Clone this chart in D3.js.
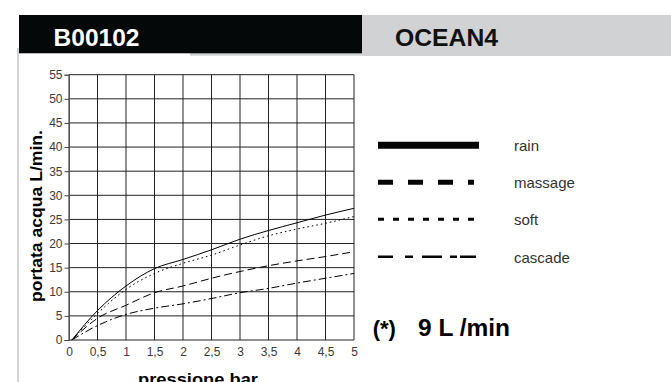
<!DOCTYPE html>
<html>
<head>
<meta charset="utf-8">
<script src="https://cdn.jsdelivr.net/npm/d3@7"></script>
<style>
  html, body { margin: 0; padding: 0; background: #fff; }
  svg { display: block; font-family: "Liberation Sans", Arial, Helvetica, sans-serif; }
</style>
</head>
<body>
<svg id="chart" width="671" height="382"></svg>
<script>
// ---- data ----
const xTicks = [0, 0.5, 1, 1.5, 2, 2.5, 3, 3.5, 4, 4.5, 5];
const yTicks = [0, 5, 10, 15, 20, 25, 30, 35, 40, 45, 50, 55];
const pressure = [0.05, 0.5, 1, 1.5, 2, 2.5, 3, 3.5, 4, 4.5, 5];
const rain    = [0, 6.1, 11.2, 14.8, 16.7, 18.7, 20.9, 22.7, 24.3, 25.9, 27.3];
const massage = [0, 4.5, 7.2, 9.8, 11.2, 12.8, 14.2, 15.4, 16.4, 17.3, 18.3];
const soft    = [0, 5.5, 10.5, 13.8, 15.9, 17.6, 19.7, 21.6, 23.0, 24.2, 25.6];
const cascade = [0, 3.0, 5.3, 6.6, 7.5, 8.6, 9.8, 10.7, 11.8, 12.8, 13.8];
const seriesNames = ["rain", "massage", "soft", "cascade"];
const codeLabel = "B00102";
const modelLabel = "OCEAN4";
const yTitle = "portata acqua  L/min.";
const xTitle = "pressione bar";
const noteStar = "(*)";
const noteValue = "9 L /min";

const fmt = v => String(v).replace(".", ",");

const svg = d3.select("#chart");

// ---- header ----
svg.append("rect").attr("x", 362).attr("y", 15).attr("width", 309).attr("height", 41).attr("fill", "#d1d2d4");
svg.append("rect").attr("x", 190).attr("y", 50).attr("width", 172).attr("height", 5.7).attr("fill", "#d1d2d4");
svg.append("rect").attr("x", 19).attr("y", 15).attr("width", 343).attr("height", 38.3).attr("fill", "#050808");
svg.append("rect").attr("x", 17).attr("y", 48).attr("width", 2).attr("height", 334).attr("fill", "#d6d6d6");
svg.append("text").attr("x", 53.5).attr("y", 45.7).attr("fill", "#fff")
  .attr("font-size", 23).attr("font-weight", "bold")
  .attr("textLength", 86).attr("lengthAdjust", "spacingAndGlyphs").text(codeLabel);
svg.append("text").attr("x", 395).attr("y", 45.7).attr("fill", "#111")
  .attr("font-size", 23).attr("font-weight", "bold")
  .attr("textLength", 103).attr("lengthAdjust", "spacingAndGlyphs").text(modelLabel);

// ---- scales ----
const x = d3.scaleLinear().domain([0, 5]).range([69, 354]);
const y = d3.scaleLinear().domain([0, 55]).range([340, 74.7]);

const g = svg.append("g");

// grid
g.selectAll("line.v").data(xTicks).enter().append("line")
  .attr("x1", d => x(d)).attr("x2", d => x(d))
  .attr("y1", y(0)).attr("y2", y(55))
  .attr("stroke", "#222").attr("stroke-width", 1);
g.selectAll("line.h").data(yTicks).enter().append("line")
  .attr("x1", x(0)).attr("x2", x(5))
  .attr("y1", d => y(d)).attr("y2", d => y(d))
  .attr("stroke", "#222").attr("stroke-width", 1);

// y axis
const yAxis = d3.axisLeft(y).tickValues(yTicks).tickSize(4.5).tickPadding(2).tickFormat(fmt);
const ya = g.append("g").attr("transform", `translate(${x(0)},0)`).call(yAxis);
ya.select(".domain").attr("stroke", "#555");
ya.selectAll(".tick line").attr("stroke", "#444");
ya.selectAll("text").attr("font-size", 12).attr("fill", "#3a3a3a")
  .attr("font-family", "Liberation Sans, Arial, sans-serif");

// x axis
const xAxis = d3.axisBottom(x).tickValues(xTicks).tickSize(0).tickPadding(7).tickFormat(fmt);
const xa = g.append("g").attr("transform", `translate(0,${y(0)})`).call(xAxis);
xa.select(".domain").remove();
xa.selectAll("text").attr("font-size", 12).attr("fill", "#3a3a3a")
  .attr("font-family", "Liberation Sans, Arial, sans-serif");

// axis titles
svg.append("text").attr("transform", "translate(41.5,216) rotate(-90)")
  .attr("text-anchor", "middle").attr("font-size", 16).attr("font-weight", "bold").attr("fill", "#000")
  .attr("textLength", 172).attr("lengthAdjust", "spacingAndGlyphs").text(yTitle);
svg.append("text").attr("x", 198).attr("y", 384.5)
  .attr("text-anchor", "middle").attr("font-size", 17).attr("font-weight", "bold").attr("fill", "#000")
  .attr("textLength", 120).attr("lengthAdjust", "spacingAndGlyphs").text(xTitle);

// ---- curves ----
const styles = {
  rain:    { dash: null,         w: 1.0 },
  massage: { dash: "8,4",        w: 1.0 },
  soft:    { dash: "1.6,3",      w: 1.0 },
  cascade: { dash: "8,3,2,3",    w: 1.0 }
};
const seriesData = { rain, massage, soft, cascade };
const line = d3.line().x(d => x(d[0])).y(d => y(d[1])).curve(d3.curveMonotoneX);
seriesNames.forEach(name => {
  const pts = pressure.map((p, i) => [p, seriesData[name][i]]);
  g.append("path").attr("d", line(pts)).attr("fill", "none")
    .attr("stroke", "#000").attr("stroke-width", styles[name].w)
    .attr("stroke-dasharray", styles[name].dash);
});

// ---- legend ----
const legendY = [145.3, 182.3, 219.3, 256.7];
const legendStyle = {
  rain:    { dash: null,                 w: 7 },
  massage: { dash: "15,15,15,15,15,15,6", w: 5 },
  soft:    { dash: "6,9",                w: 3 },
  cascade: { dash: "15,12,8,9,20,8,7,3,16", w: 2.5 }
};
const lg = svg.append("g");
seriesNames.forEach((name, i) => {
  lg.append("line").attr("x1", 378).attr("x2", 479)
    .attr("y1", legendY[i]).attr("y2", legendY[i])
    .attr("stroke", "#050505").attr("stroke-width", legendStyle[name].w)
    .attr("stroke-dasharray", legendStyle[name].dash);
  lg.append("text").attr("x", 514).attr("y", legendY[i] + 6)
    .attr("font-size", 15).attr("fill", "#333").text(name);
});

// ---- note ----
svg.append("text").attr("x", 372.7).attr("y", 336).attr("font-size", 22).attr("font-weight", "bold")
  .attr("fill", "#000").text(noteStar);
svg.append("text").attr("x", 418).attr("y", 336).attr("font-size", 23).attr("font-weight", "bold")
  .attr("fill", "#000").attr("textLength", 92).attr("lengthAdjust", "spacingAndGlyphs").text(noteValue);
</script>
</body>
</html>
